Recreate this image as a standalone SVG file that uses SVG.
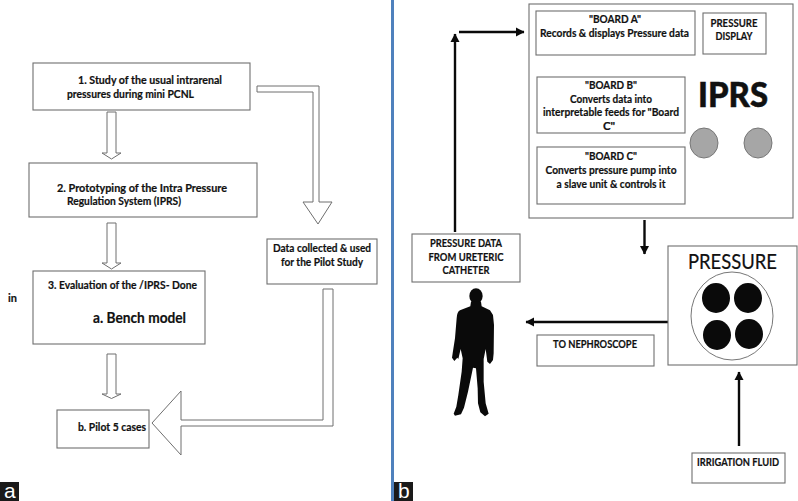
<svg xmlns="http://www.w3.org/2000/svg" width="798" height="501" viewBox="0 0 798 501">
<style>
text{font-family:"Lato","Liberation Sans",sans-serif;font-weight:700;font-size:11.500px;fill:#111;stroke:#111;stroke-width:.2}
.m{text-anchor:middle}
.b{fill:#fff;stroke:#6f6f6f;stroke-width:1.100}
.h{fill:#fff;stroke:#6f6f6f;stroke-width:1}
.l{fill:none;stroke:#0a0a0a;stroke-width:2.400}
.lab{font-family:"Liberation Sans",sans-serif;font-weight:400;font-size:21px;fill:#fff;stroke:none}
</style>
<defs><marker id="ah" markerUnits="userSpaceOnUse" markerWidth="10" markerHeight="10" refX="8" refY="5" orient="auto"><path d="M0 0.500L8.500 5L0 9.500Z" fill="#0a0a0a"/></marker></defs>
<rect width="798" height="501" fill="#fff"/>
<rect x="391" y="0" width="3" height="501" fill="#4f81bd"/>
<g id="connectors">
<path class="h" d="M107 112H116V153H121L111.500 159L102 153H107Z"/>
<path class="h" d="M107 223H116V263H121L111.500 269L102 263H107Z"/>
<path class="h" d="M107 354H116V394H121L111.500 398.500L102 394H107Z"/>
<path class="h" d="M257 86H319V202H332L318 224L303 202H313V92H257Z"/>
<path class="h" d="M323 289H333V426H181V455L152 423L181 391V420H323Z"/>
<path class="l" d="M455 232V34" marker-end="url(#ah)"/>
<path class="l" d="M459 32H524" marker-end="url(#ah)"/>
<path class="l" d="M600 53V72" marker-end="url(#ah)"/>
<path class="l" d="M600 130V149" marker-end="url(#ah)"/>
<path class="l" d="M644.500 220V254" marker-end="url(#ah)"/>
<path class="l" d="M668 322H526" marker-end="url(#ah)"/>
<path class="l" d="M739 446V372" marker-end="url(#ah)"/>
</g>
<g id="study"><rect class="b" x="33" y="63" width="217" height="47"/><text x="78" y="84" textLength="144" lengthAdjust="spacingAndGlyphs">1. Study of the usual intrarenal</text><text x="67" y="98" textLength="127" lengthAdjust="spacingAndGlyphs">pressures during mini PCNL</text></g>
<g id="prototyping"><rect class="b" x="29" y="163" width="228" height="54"/><text x="57" y="192" textLength="170" lengthAdjust="spacingAndGlyphs">2. Prototyping of the Intra Pressure</text><text x="67" y="205" textLength="114" lengthAdjust="spacingAndGlyphs">Regulation System (IPRS)</text></g>
<g id="evaluation"><rect class="b" x="33" y="271" width="172" height="73"/><text x="48" y="289" textLength="149" lengthAdjust="spacingAndGlyphs">3. Evaluation of the /IPRS- Done</text><text x="93" y="323" style="font-size:15px" textLength="93" lengthAdjust="spacingAndGlyphs">a. Bench model</text></g>
<g id="in-note"><text x="8" y="302" textLength="9" lengthAdjust="spacingAndGlyphs">in</text></g>
<g id="pilot"><rect class="b" x="57" y="410" width="92" height="38"/><text x="78" y="431" textLength="68" lengthAdjust="spacingAndGlyphs">b. Pilot 5 cases</text></g>
<g id="data"><rect class="b" x="267" y="239" width="110" height="45"/><text class="m" x="322" y="252" textLength="98" lengthAdjust="spacingAndGlyphs">Data collected &amp; used</text><text class="m" x="322" y="266" textLength="82" lengthAdjust="spacingAndGlyphs">for the Pilot Study</text></g>
<g id="label-a"><rect x="0" y="482" width="19" height="19" fill="#1a1a1a"/><text class="lab" x="4" y="498">a</text></g>
<g id="iprs"><rect class="b" x="529" y="4" width="264" height="214"/><text x="698" y="107" style="font-size:34px;font-weight:900;stroke-width:.5" textLength="70" lengthAdjust="spacingAndGlyphs">IPRS</text><ellipse cx="704" cy="143" rx="14" ry="15" fill="#a6a6a6" stroke="#777"/><ellipse cx="758" cy="143" rx="14" ry="15" fill="#a6a6a6" stroke="#777"/></g>
<g id="board-a"><rect class="b" x="536" y="11" width="159" height="44"/><text class="m" x="615" y="23" textLength="52" lengthAdjust="spacingAndGlyphs">"BOARD A"</text><text class="m" x="614.500" y="37" textLength="149" lengthAdjust="spacingAndGlyphs">Records &amp; displays Pressure data</text></g>
<g id="pressure-display"><rect class="b" x="703" y="13" width="63" height="41"/><text class="m" x="734" y="27" textLength="47" lengthAdjust="spacingAndGlyphs">PRESSURE</text><text class="m" x="734" y="40" textLength="37" lengthAdjust="spacingAndGlyphs">DISPLAY</text></g>
<g id="board-b"><rect class="b" x="537" y="77" width="148" height="56"/><text class="m" x="611" y="89" textLength="52" lengthAdjust="spacingAndGlyphs">"BOARD B"</text><text class="m" x="611" y="103" textLength="82" lengthAdjust="spacingAndGlyphs">Converts data into</text><text class="m" x="611" y="116" textLength="136" lengthAdjust="spacingAndGlyphs">interpretable feeds for "Board</text><text class="m" x="609" y="130">C"</text></g>
<g id="board-c"><rect class="b" x="537" y="147" width="148" height="57"/><text class="m" x="611" y="160" textLength="52" lengthAdjust="spacingAndGlyphs">"BOARD C"</text><text class="m" x="611" y="174" textLength="131" lengthAdjust="spacingAndGlyphs">Converts pressure pump into</text><text class="m" x="611" y="188" textLength="109" lengthAdjust="spacingAndGlyphs">a slave unit &amp; controls it</text></g>
<g id="pressure-data"><rect class="b" x="412" y="234" width="108" height="48"/><text class="m" x="466" y="247" textLength="72" lengthAdjust="spacingAndGlyphs">PRESSURE DATA</text><text class="m" x="466" y="261" textLength="75" lengthAdjust="spacingAndGlyphs">FROM URETERIC</text><text class="m" x="466" y="274" textLength="47" lengthAdjust="spacingAndGlyphs">CATHETER</text></g>
<g id="pressure-pump"><rect class="b" x="668" y="246" width="129" height="119"/><text x="688" y="269" style="font-size:21px;font-weight:400" textLength="89" lengthAdjust="spacingAndGlyphs">PRESSURE</text><ellipse cx="732" cy="316" rx="41" ry="44" fill="#fff" stroke="#777"/><ellipse cx="716" cy="298" rx="14" ry="15" fill="#0a0a0a"/><ellipse cx="748" cy="298" rx="14" ry="15" fill="#0a0a0a"/><ellipse cx="717" cy="335" rx="14" ry="15" fill="#0a0a0a"/><ellipse cx="749" cy="334" rx="14" ry="15" fill="#0a0a0a"/></g>
<g id="nephroscope"><rect class="b" x="537" y="335" width="117" height="31"/><text class="m" x="595" y="348" textLength="84" lengthAdjust="spacingAndGlyphs">TO NEPHROSCOPE</text></g>
<g id="irrigation"><rect class="b" x="692" y="453" width="93" height="30"/><text class="m" x="738" y="466" textLength="82" lengthAdjust="spacingAndGlyphs">IRRIGATION FLUID</text></g>
<g id="person" transform="translate(395 225) scale(.3333)"><ellipse cx="243" cy="213" rx="20" ry="23" fill="#0a0a0a"/><path fill="#0a0a0a" d="M228 230L226 244L195 256Q186 260 185 280L180 340L173 385L171 398L178 408L187 398L190 402L197 372L203 400L200 440L190 510L184 545L176 566L180 572L198 568L207 548L219 500L234 428L243 430L248 490L249 535L256 562L270 574L281 566L272 535L266 470L266 402L272 372L277 410L285 417L294 405L296 385L297 300L294 270L285 256L260 244L258 230Z"/></g>
<g id="label-b"><rect x="394" y="482" width="19" height="19" fill="#1a1a1a"/><text class="lab" x="398" y="498">b</text></g>
</svg>
